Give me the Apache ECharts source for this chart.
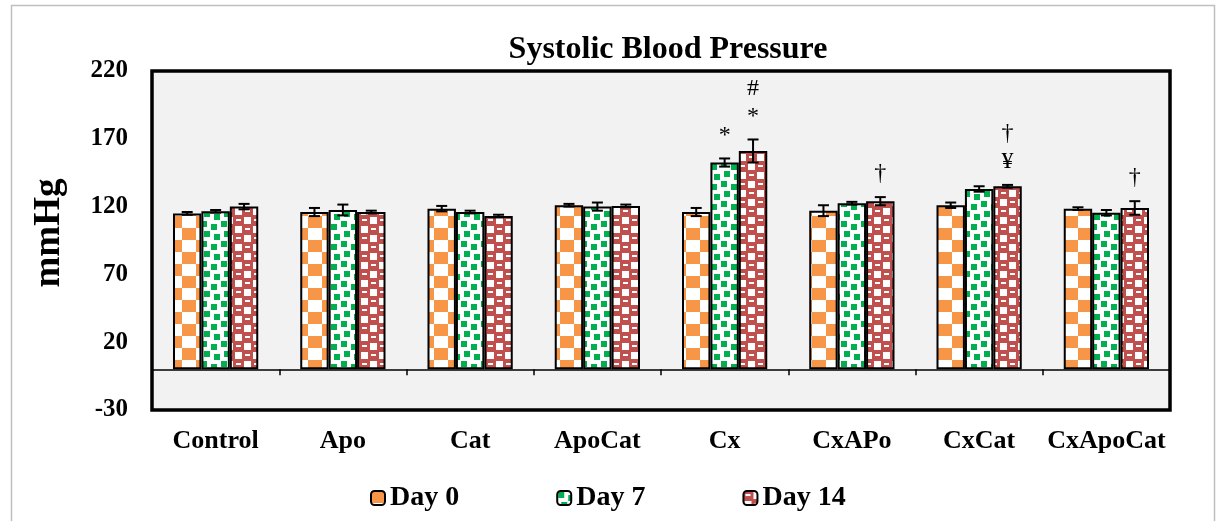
<!DOCTYPE html>
<html><head><meta charset="utf-8">
<script src="https://cdn.jsdelivr.net/npm/echarts@6/dist/echarts.min.js"></script>
<style>html,body{margin:0;padding:0;background:#fff}#c{width:1225px;height:521px}</style>
</head><body><div id="c"></div>
<script>
const categories = ['Control','Apo','Cat','ApoCat','Cx','CxAPo','CxCat','CxApoCat'];
const seriesNames = ['Day 0','Day 7','Day 14'];
const day0 = [115, 116, 118.5, 121, 116, 117, 121, 118.5];
const day7 = [116.5, 117.5, 116, 120, 152.5, 122.5, 133, 115.5];
const day14 = [120, 116, 113, 120.5, 161, 124, 135, 119];
const err0 = [1, 3, 2, 1, 3, 4, 2, 1];
const err7 = [1, 4, 1, 3, 3, 1, 2, 2];
const err14 = [2, 1, 1, 1, 8.5, 3, 1, 5];
const ann0 = ['', '', '', '', '', '', '', ''];
const ann7 = ['', '', '', '', '*', '', '', ''];
const ann14 = ['', '', '', '', '#\n*', '†', '†\n¥', '†'];
const yTicks = [-30, 20, 70, 120, 170, 220];

const FONT = '"Liberation Serif","Times New Roman",serif';

function mk(w, h, draw) {
  const c = document.createElement('canvas'); c.width = w; c.height = h;
  const g = c.getContext('2d'); draw(g); return c;
}
const patOrange = mk(28, 24, g => {
  g.fillStyle = '#fff'; g.fillRect(0,0,28,24);
  g.fillStyle = '#F79646'; g.fillRect(0,0,14,12); g.fillRect(14,12,14,12);
});
const patGreen = mk(20, 20, g => {
  g.fillStyle = '#fff'; g.fillRect(0,0,20,20);
  g.fillStyle = '#00B050';
  g.fillRect(1,1,6,6); g.fillRect(11,4,6,6); g.fillRect(4,11,6,6); g.fillRect(14,14,6,6);
});
const patRed = mk(18, 18, g => {
  g.fillStyle = '#C0504D'; g.fillRect(0,0,18,18);
  g.fillStyle = '#fff';
  g.fillRect(10,1,7,7); g.fillRect(1,10,7,7);
  g.fillRect(2,3,5,2); g.fillRect(11,12,5,2);
});
const pats = [patOrange, patGreen, patRed];
const vals = [day0, day7, day14];
const errs = [err0, err7, err14];
const anns = [ann0, ann7, ann14];
const GAPR = 0.33;

const chart = echarts.init(document.getElementById('c'), null, {renderer:'canvas'});

const series = [];
seriesNames.forEach((n, i) => {
  series.push({
    name: n, type: 'bar', xAxisIndex: 0, data: vals[i],
    barGap: '0%', barCategoryGap: (GAPR*100)+'%',
    itemStyle: { color: {image: pats[i], repeat: 'repeat'}, borderColor: '#000', borderWidth: 2 },
    z: 2
  });
});
seriesNames.forEach((n, i) => {
  series.push({
    type: 'custom', xAxisIndex: 0, z: 5, silent: true,
    data: vals[i].map((v, k) => [k, v, errs[i][k]]),
    renderItem: (params, api) => {
      const k = api.value(0), v = api.value(1), e = api.value(2);
      const catW = api.size([1, 0])[0];
      const bw = catW * (1 - GAPR) / 3;
      const x = api.coord([k, v])[0] + (i - 1) * bw;
      const yt = api.coord([k, v + e])[1], yb = api.coord([k, v - e])[1];
      const cw = 5.5;
      const st = {stroke: '#000', lineWidth: 2};
      const children = [
        {type:'line', shape:{x1:x, y1:yt, x2:x, y2:yb}, style:st},
        {type:'line', shape:{x1:x-cw, y1:yt, x2:x+cw, y2:yt}, style:st},
        {type:'line', shape:{x1:x-cw, y1:yb, x2:x+cw, y2:yb}, style:st}
      ];
      const t = anns[i][k];
      if (t) {
        children.push({type:'text', style:{text:t, x:x, y:yt-9, align:'center', verticalAlign:'bottom',
          font:'24px ' + FONT, lineHeight: 28, fill:'#000'}});
      }
      return {type:'group', children};
    }
  });
});

chart.setOption({
  backgroundColor: '#fff',
  animation: false,
  title: { text: 'Systolic Blood Pressure', left: 663, top: 29, textAlign: 'center',
    textStyle: { fontFamily: FONT, fontWeight: 'bold', fontSize: 32, color: '#000' } },
  legend: { data: seriesNames, left: 365, top: 479, itemWidth: 14, itemHeight: 14, itemGap: 97,
    textStyle: { fontFamily: FONT, fontWeight: 'bold', fontSize: 28, color: '#000' } },
  graphic: [
    { type: 'rect', shape: {x: 11.5, y: 5.5, width: 1203, height: 530}, style: {fill: 'none', stroke: '#bfbfbf', lineWidth: 1.5}, silent: true },
    { type: 'text', x: 49, y: 233, rotation: Math.PI / 2, silent: true,
      style: { text: 'mmHg', align: 'center', verticalAlign: 'middle', font: 'bold 37px ' + FONT, fill: '#000' } }
  ],
  grid: { left: 152, right: 55, top: 71, bottom: 111, show: true, backgroundColor: '#f2f2f2', borderColor: '#000', borderWidth: 3.5 },
  xAxis: [
    { type: 'category', data: categories, position: 'bottom',
      axisLine: { onZero: true, lineStyle: { color: '#000', width: 1.5 } },
      axisTick: { show: true, length: 6, lineStyle: { color: '#000', width: 1.5 } },
      axisLabel: { show: false }, z: 6 },
    { type: 'category', data: categories, position: 'bottom',
      axisLine: { show: false, onZero: false }, axisTick: { show: false },
      axisLabel: { interval: 0, margin: 18, fontFamily: FONT, fontWeight: 'bold', fontSize: 26, color: '#000' } }
  ],
  yAxis: { type: 'value', min: -30, max: 220,
    axisLine: { show: false }, axisTick: { show: false }, splitLine: { show: false },
    axisLabel: { customValues: yTicks, margin: 24, fontFamily: FONT, fontWeight: 'bold', fontSize: 25, color: '#000' } },
  series
});
</script></body></html>
